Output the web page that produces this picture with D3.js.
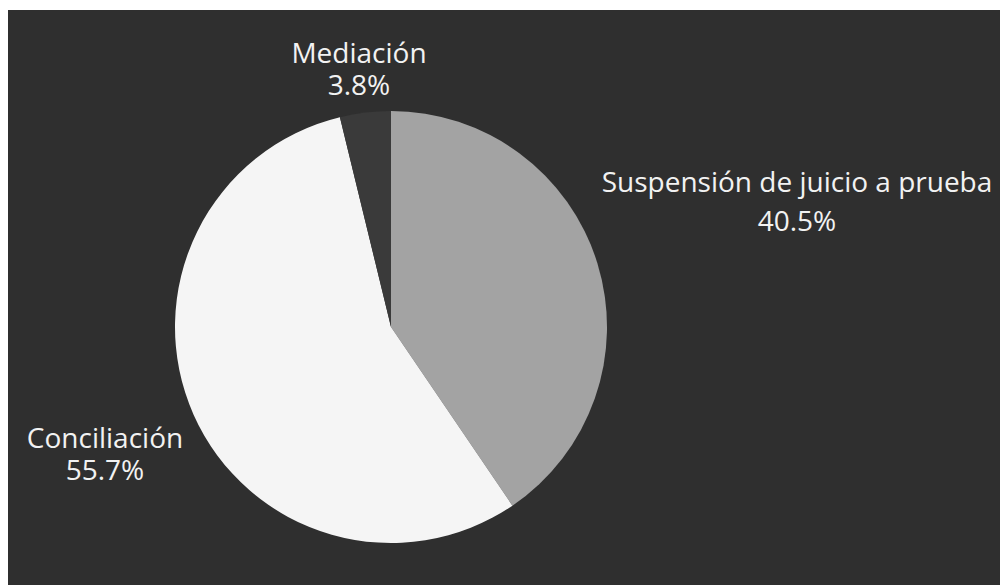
<!DOCTYPE html>
<html>
<head>
<meta charset="utf-8">
<script src="https://cdn.jsdelivr.net/npm/d3@7"></script>
<style>
html,body{margin:0;padding:0;background:#ffffff;}
svg{display:block;}
</style>
</head>
<body>
<svg id="chart" width="1000" height="585"></svg>
<script>
// Data
const categories = ["Suspensión de juicio a prueba", "Conciliación", "Mediación"];
const values = [40.5, 55.7, 3.8];
const sliceColors = ["#a3a3a3", "#f5f5f5", "#3a3a3a"];

// Label layout (text centres, first-line baseline)
const labelLayout = [
  {x: 797, y: 192},
  {x: 105, y: 448},
  {x: 359, y: 63}
];

const W = 1000, H = 585;
const svg = d3.select("#chart");

svg.append("rect")
  .attr("x", 8).attr("y", 10)
  .attr("width", W - 8).attr("height", H - 10)
  .attr("fill", "#2f2f2f");

const cx = 391, cy = 327, radius = 216;

const data = categories.map((c, i) => ({name: c, value: values[i], color: sliceColors[i], i}));

const pie = d3.pie().value(d => d.value).sort(null);
const arc = d3.arc().innerRadius(0).outerRadius(radius);

const g = svg.append("g").attr("transform", `translate(${cx},${cy})`);

g.selectAll("path.slice")
  .data(pie(data))
  .join("path")
  .attr("class", "slice")
  .attr("d", arc)
  .attr("fill", d => d.data.color);

const labels = svg.append("g")
  .attr("font-family", "'Open Sans', sans-serif")
  .attr("font-size", 28)
  .attr("fill", "#f2f2f2")
  .attr("text-anchor", "middle");

const total = d3.sum(values);
data.forEach((d, i) => {
  const pos = labelLayout[i];
  const t = labels.append("text").attr("x", pos.x).attr("y", pos.y);
  t.append("tspan").attr("x", pos.x).text(d.name);
  t.append("tspan").attr("x", pos.x).attr("dy", i === 0 ? 39 : 32)
    .text((d.value / total * 100).toFixed(1) + "%");
});
</script>
</body>
</html>
